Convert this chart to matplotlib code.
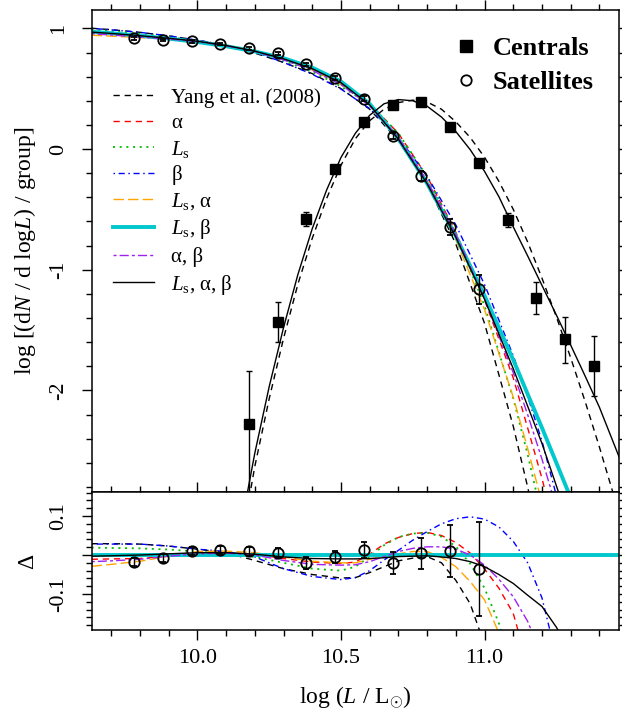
import matplotlib
matplotlib.use('Agg')
import matplotlib.pyplot as plt
from matplotlib.ticker import MultipleLocator, FixedLocator, FixedFormatter, FormatStrFormatter
from matplotlib.lines import Line2D

plt.rcParams['font.family'] = ['Liberation Serif', 'DejaVu Serif']
plt.rcParams['mathtext.fontset'] = 'custom'
plt.rcParams['mathtext.rm'] = 'Liberation Serif'
plt.rcParams['mathtext.it'] = 'Liberation Serif:italic'
plt.rcParams['mathtext.bf'] = 'Liberation Serif:bold'
plt.rcParams['axes.unicode_minus'] = False

# ---- data: satellites (open circles) ----
sat_logL = [9.78, 9.88, 9.98, 10.08, 10.18, 10.28, 10.38, 10.48, 10.58, 10.68, 10.78, 10.88, 10.98]
sat_phi = [0.917, 0.903, 0.892, 0.870, 0.834, 0.793, 0.702, 0.591, 0.417, 0.108, -0.224, -0.644, -1.163]
sat_err = [0.01, 0.01, 0.01, 0.01, 0.012, 0.012, 0.015, 0.015, 0.02, 0.028, 0.04, 0.066, 0.12]
sat_delta = [-0.017, -0.007, 0.010, 0.013, 0.009, 0.005, -0.020, -0.006, 0.013, -0.021, 0.004, 0.010, -0.036]

# ---- data: centrals (filled squares) ----
cen_logL = [10.18, 10.28, 10.38, 10.48, 10.58, 10.68, 10.78, 10.88, 10.98, 11.08, 11.18, 11.28, 11.38]
cen_phi = [-2.28, -1.436, -0.583, -0.168, 0.226, 0.362, 0.389, 0.185, -0.119, -0.588, -1.237, -1.577, -1.798]
cen_err_lo = [1.0, 0.164, 0.057, 0.02, 0.015, 0.012, 0.012, 0.015, 0.02, 0.062, 0.133, 0.199, 0.252]
cen_err_hi = [0.44, 0.166, 0.058, 0.02, 0.015, 0.012, 0.012, 0.015, 0.02, 0.058, 0.133, 0.187, 0.248]

# ---- central model curves ----
cen_fit_x = [10.17, 10.2, 10.25, 10.3, 10.35, 10.4, 10.45, 10.5, 10.55, 10.6, 10.65, 10.7, 10.75, 10.8,
             10.85, 10.9, 10.95, 11.0, 11.05, 11.1, 11.15, 11.2, 11.25, 11.3, 11.35, 11.4, 11.47]
cen_fit = [-2.90, -2.52, -1.97, -1.48, -1.04, -0.66, -0.34, -0.07, 0.13, 0.28, 0.375, 0.41, 0.40, 0.355,
           0.265, 0.145, -0.005, -0.185, -0.395, -0.645, -0.885, -1.13, -1.375, -1.625, -1.88, -2.14, -2.56]
cen_yang_x = [10.18, 10.2, 10.25, 10.3, 10.35, 10.4, 10.45, 10.5, 10.55, 10.6, 10.65, 10.7, 10.75, 10.8,
              10.85, 10.9, 10.95, 11.0, 11.05, 11.1, 11.15, 11.2, 11.25, 11.3, 11.35, 11.4, 11.45, 11.5]
cen_yang = [-2.90, -2.63, -2.07, -1.57, -1.12, -0.74, -0.41, -0.135, 0.085, 0.235, 0.33, 0.385, 0.405, 0.39,
            0.33, 0.226, 0.096, -0.068, -0.268, -0.50, -0.77, -1.07, -1.39, -1.73, -2.09, -2.47, -2.87, -3.29]

# ---- satellite model curves (top panel) ----
top_x = [9.632, 9.7, 9.8, 9.9, 10.0, 10.1, 10.2, 10.3, 10.4, 10.5, 10.6, 10.7, 10.8, 10.9, 11.0, 11.1,
         11.15, 11.2, 11.25, 11.3]
top_yang = [1.001, 0.989, 0.967, 0.938, 0.902, 0.858, 0.795, 0.718, 0.625, 0.501, 0.330, 0.070, -0.289,
            -0.787, -1.445, -2.297, -2.80, -3.36, -3.95, -4.59]
top_a = [0.961, 0.950, 0.930, 0.912, 0.890, 0.858, 0.811, 0.744, 0.657, 0.538, 0.377, 0.130, -0.227,
         -0.690, -1.251, -1.897, -2.31, -2.73, -3.20, -3.69]
top_ls = [0.991, 0.978, 0.956, 0.929, 0.896, 0.855, 0.804, 0.733, 0.640, 0.520, 0.370, 0.131, -0.228,
          -0.700, -1.300, -2.067, -2.53, -3.05, -3.60, -4.19]
top_b = [1.000, 0.988, 0.967, 0.938, 0.902, 0.861, 0.804, 0.718, 0.620, 0.497, 0.335, 0.097, -0.225,
         -0.629, -1.123, -1.712, -2.05, -2.42, -2.87, -3.34]
top_ls_a = [0.943, 0.936, 0.923, 0.912, 0.896, 0.862, 0.815, 0.748, 0.659, 0.540, 0.364, 0.088, -0.276,
            -0.752, -1.330, -2.057, -2.48, -2.93, -3.40, -3.89]
top_ls_b = [0.972, 0.960, 0.939, 0.915, 0.887, 0.852, 0.809, 0.753, 0.675, 0.560, 0.375, 0.085, -0.285,
            -0.722, -1.215, -1.747, -2.03, -2.31, -2.60, -2.89]
top_a_b = [0.955, 0.945, 0.928, 0.912, 0.890, 0.857, 0.809, 0.739, 0.651, 0.534, 0.358, 0.094, -0.264,
           -0.707, -1.241, -1.854, -2.20, -2.57, -2.97, -3.39]
top_ls_a_b = [0.969, 0.958, 0.939, 0.918, 0.893, 0.858, 0.811, 0.748, 0.666, 0.550, 0.366, 0.081, -0.287,
              -0.731, -1.245, -1.820, -2.13, -2.44, -2.79, -3.14]

# ---- residual curves (bottom panel) ----
res_x = [9.632, 9.7, 9.8, 9.9, 10.0, 10.1, 10.2, 10.3, 10.4, 10.5, 10.55, 10.6, 10.65, 10.7, 10.75, 10.8,
         10.85, 10.9, 10.95, 11.0, 11.05, 11.1, 11.15, 11.2, 11.25, 11.3, 11.4, 11.47]
res_yang = [0.029, 0.029, 0.028, 0.023, 0.015, 0.006, -0.014, -0.035, -0.05, -0.059, -0.058, -0.045, -0.03,
            -0.015, -0.008, -0.004, -0.02, -0.065, -0.125, -0.23, -0.36, -0.55, -0.77, -1.05, -1.35, -1.7,
            -2.5, -3.0]
res_a = [-0.011, -0.010, -0.009, -0.003, 0.003, 0.006, 0.002, -0.009, -0.018, -0.022, -0.018, 0.002, 0.028,
         0.045, 0.055, 0.058, 0.05, 0.032, 0.005, -0.036, -0.085, -0.15, -0.28, -0.42, -0.6, -0.8, -1.2, -1.5]
res_ls = [0.019, 0.018, 0.017, 0.014, 0.009, 0.003, -0.005, -0.02, -0.035, -0.04, -0.03, -0.005, 0.025,
          0.046, 0.055, 0.057, 0.047, 0.022, -0.022, -0.085, -0.175, -0.32, -0.50, -0.74, -1.0, -1.3, -2.0, -2.5]
res_b = [0.028, 0.028, 0.028, 0.023, 0.015, 0.009, -0.005, -0.035, -0.055, -0.063, -0.058, -0.04, -0.013,
         0.012, 0.038, 0.06, 0.08, 0.093, 0.098, 0.092, 0.072, 0.035, -0.02, -0.11, -0.26, -0.45, -0.9, -1.3]
res_ls_a = [-0.029, -0.024, -0.016, -0.003, 0.009, 0.010, 0.006, -0.005, -0.016, -0.02, -0.02, -0.011, -0.004,
            0.003, 0.009, 0.009, -0.006, -0.03, -0.068, -0.115, -0.20, -0.31, -0.45, -0.62, -0.8, -1.0, -1.4, -1.7]
res_ls_b = [0.0] * len(res_x)
res_a_b = [-0.017, -0.015, -0.011, -0.003, 0.003, 0.005, 0.0, -0.014, -0.024, -0.026, -0.025, -0.017, -0.004,
           0.009, 0.017, 0.021, 0.021, 0.015, 0.0, -0.026, -0.062, -0.107, -0.17, -0.26, -0.37, -0.5, -0.8, -1.0]
res_ls_a_b = [-0.003, -0.002, 0.0, 0.003, 0.006, 0.006, 0.002, -0.005, -0.009, -0.01, -0.01, -0.009, -0.007,
              -0.004, -0.003, -0.002, -0.005, -0.009, -0.017, -0.03, -0.05, -0.073, -0.103, -0.132, -0.185,
              -0.25, -0.4, -0.5]

labels = ['Yang et al. (2008)', 'α', r'$L_{\rm s}$', 'β', r'$L_{\rm s}$, α', r'$L_{\rm s}$, β',
          'α, β', r'$L_{\rm s}$, α, β']
colors = ['black', '#FF0000', '#00C000', '#0000FF', '#FFA500', '#00C8CC', '#A020F0', 'black']
styles = [(0, (4.5, 3.5)), (0, (4.5, 3.5)), (0, (1.1, 2.6)), (0, (1.1, 2.6, 4.4, 2.6)),
          (0, (7.5, 3.0)), '-', (0, (2.2, 2.2, 6.6, 2.2)), '-']
widths = [1.0, 1.0, 1.3, 1.0, 1.0, 2.8, 1.0, 1.0]

top_curves = [top_yang, top_a, top_ls, top_b, top_ls_a, top_ls_b, top_a_b, top_ls_a_b]
res_curves = [res_yang, res_a, res_ls, res_b, res_ls_a, res_ls_b, res_a_b, res_ls_a_b]

fig = plt.figure(figsize=(6.22, 7.11), dpi=100)
ax1 = fig.add_axes([0.1474, 0.3080, 0.8477, 0.6779])
ax2 = fig.add_axes([0.1474, 0.1139, 0.8477, 0.1941])

xlim = (9.632, 11.468)

# top panel
for y, c, ls, lw in zip(top_curves, colors, styles, widths):
    ax1.plot(top_x, y, color=c, linestyle=ls, lw=lw)
ax1.plot(cen_yang_x, cen_yang, color='black', linestyle=(0, (4.5, 3.5)), lw=1.0)
ax1.plot(cen_fit_x, cen_fit, color='black', lw=1.0)

ax1.errorbar(cen_logL, cen_phi, yerr=[cen_err_lo, cen_err_hi], fmt='s', color='black', ms=7.5,
             elinewidth=1.0, capsize=2.5, capthick=1.0, zorder=5)
ax1.errorbar(sat_logL, sat_phi, yerr=sat_err, fmt='o', mfc='none', mec='black', mew=1.3, ms=7.5,
             ecolor='black', elinewidth=1.0, capsize=2.5, capthick=1.0, zorder=5)

ax1.set_xlim(*xlim)
ax1.set_ylim(-2.842, 1.152)
ax1.yaxis.set_major_locator(MultipleLocator(1))
ax1.yaxis.set_minor_locator(MultipleLocator(0.2))
ax1.yaxis.set_major_formatter(FormatStrFormatter('%d'))
ax1.xaxis.set_major_locator(MultipleLocator(0.5))
ax1.xaxis.set_minor_locator(MultipleLocator(0.1))
ax1.tick_params(which='both', direction='out', top=True, bottom=False, left=True, right=True,
                labelbottom=False, labelsize=16, width=1.0)
ax1.tick_params(axis='y', labelrotation=90, pad=10)
ax1.tick_params(which='major', length=7)
ax1.tick_params(which='minor', length=4)
ax1.set_ylabel(r'log [(d$N$ / d log$L$) / group]', fontsize=17, labelpad=8)

# bottom panel
for y, c, ls, lw in zip(res_curves, colors, styles, widths):
    ax2.plot(res_x, y, color=c, linestyle=ls, lw=lw)
ax2.errorbar(sat_logL, sat_delta, yerr=sat_err, fmt='o', mfc='none', mec='black', mew=1.3, ms=7.5,
             ecolor='black', elinewidth=1.0, capsize=2.5, capthick=1.0, zorder=5)
ax2.set_xlim(*xlim)
ax2.set_ylim(-0.1923, 0.1615)
ax2.yaxis.set_major_locator(FixedLocator([-0.1, 0.0, 0.1]))
ax2.yaxis.set_major_formatter(FixedFormatter(['-0.1', '', '0.1']))
ax2.yaxis.set_minor_locator(MultipleLocator(0.02))
ax2.xaxis.set_major_locator(MultipleLocator(0.5))
ax2.xaxis.set_minor_locator(MultipleLocator(0.1))
ax2.xaxis.set_major_formatter(FormatStrFormatter('%.1f'))
ax2.tick_params(which='both', direction='out', top=True, bottom=True, left=True, right=True,
                labelsize=16, width=1.0)
ax2.tick_params(axis='y', labelrotation=90, pad=10)
ax2.tick_params(axis='x', pad=7)
ax2.tick_params(which='major', length=7)
ax2.tick_params(which='minor', length=4)
ax2.set_ylabel('Δ', fontsize=17, labelpad=8)
ax2.set_xlabel(r'log ($L$ / L$_{\odot}$)', fontsize=17, labelpad=12)

for ax in (ax1, ax2):
    for s in ax.spines.values():
        s.set_linewidth(1.1)
for lbl in ax1.get_yticklabels() + ax2.get_yticklabels():
    lbl.set_verticalalignment('center')

# legends
handles = [Line2D([], [], color=c, linestyle=ls, lw=lw) for c, ls, lw in zip(colors, styles, widths)]
fig.legend(handles, labels, loc='upper left', bbox_to_anchor=(113 / 622, 1 - 88 / 711),
           bbox_transform=fig.transFigure, frameon=False, fontsize=15, handlelength=1.95,
           handletextpad=0.85, labelspacing=0.27, borderpad=0, borderaxespad=0)

mk = [Line2D([], [], marker='s', color='black', ls='none', ms=8),
      Line2D([], [], marker='o', mfc='none', mec='black', mew=1.3, ls='none', ms=7.5)]
fig.legend(mk, ['Centrals', 'Satellites'], loc='upper left', bbox_to_anchor=(453 / 622, 1 - 37 / 711),
           bbox_transform=fig.transFigure, frameon=False, handlelength=1.0, handletextpad=0.5,
           labelspacing=0.38, borderpad=0, borderaxespad=0,
           prop={'family': 'Liberation Serif', 'weight': 'bold', 'size': 19})

fig.savefig('out.png', dpi=100)
